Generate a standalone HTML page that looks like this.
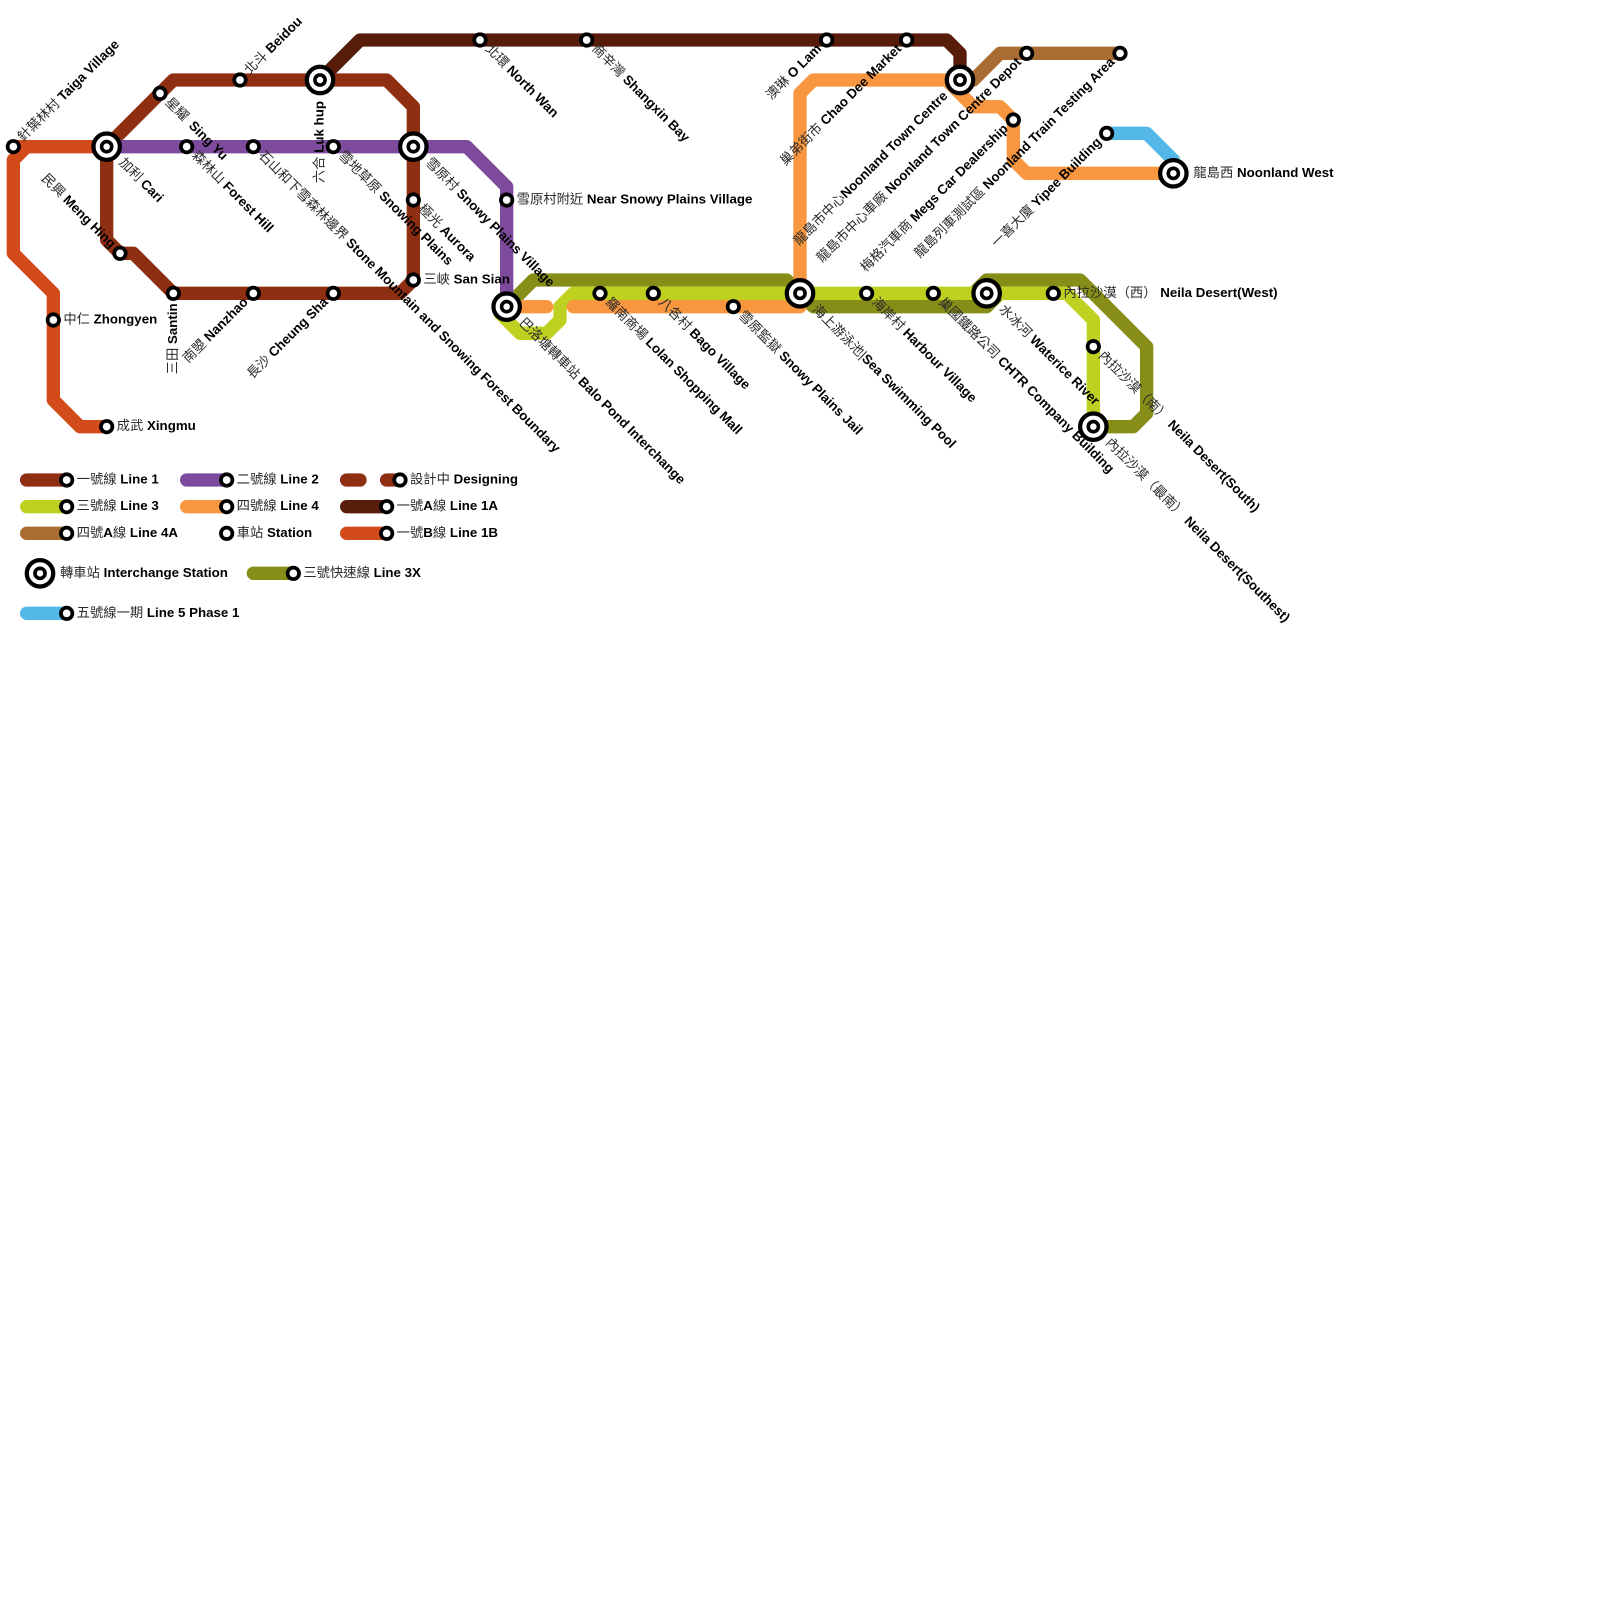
<!DOCTYPE html>
<html><head><meta charset="utf-8"><style>
html,body{margin:0;padding:0;background:#fff}
svg{display:block}
text{font-family:"Liberation Sans","Noto Sans CJK TC",sans-serif;font-size:13.33px;fill:#2a2a2a}
text tspan{font-weight:bold;fill:#000}
.l{fill:none;stroke-width:1;stroke-linejoin:round;stroke-linecap:round}
</style></head><body>
<svg width="1600" height="1600" viewBox="0 0 1600 1600" xmlns="http://www.w3.org/2000/svg">
<defs>
<g id="s"><circle r=".43" fill="#fff" stroke="#000" stroke-width=".28"/></g>
<g id="i"><circle r=".99" fill="#fff" stroke="#000" stroke-width=".32"/><circle r=".38" fill="#fff" stroke="#000" stroke-width=".27"/></g>
</defs>
<g transform="scale(13.3333)">
<!-- lines -->
<polyline class="l" stroke="#8f2f12" points="8,11 8,18 9,19 10,19 13,22 30,22 31,21 31,8 29,6 13,6 8,11"/>
<polyline class="l" stroke="#d34a1b" points="8,11 1,11"/>
<polyline class="l" stroke="#d34a1b" points="2,11 1,12 1,19 4,22 4,30 6,32 8,32"/>
<polyline class="l" stroke="#581c0a" points="24,6 27,3 71,3 72,4 72,6"/>
<polyline class="l" stroke="#a96c33" points="72,6 73,6 75,4 84,4"/>
<polyline class="l" stroke="#878e17" points="38,23 40,21 59,21 60,22 61,23 74,23 75,22"/>
<polyline class="l" stroke="#878e17" points="73,22 74,21 81,21 86,26 86,31 85,32 82,32"/>
<polyline class="l" stroke="#bfd120" points="37.5,23.5 39,25 41,25 42,24 42,23 43,22 80,22 82,24 82,32"/>
<polyline class="l" stroke="#f8973f" points="38,23 41,23"/>
<polyline class="l" stroke="#f8973f" points="43,23 60,23 60,7 61,6 71,6 73,8 75,8 76,9 76,12 77,13 88,13"/>
<polyline class="l" stroke="#53b7e8" points="83,10 86,10 88,12 88,13"/>
<polyline class="l" stroke="#7d4a9c" points="8,11 35,11 38,14 38,23"/>
<!-- legend lines -->
<line class="l" stroke="#8f2f12" x1="2" y1="36" x2="5" y2="36"/>
<line class="l" stroke="#bfd120" x1="2" y1="38" x2="5" y2="38"/>
<line class="l" stroke="#a96c33" x1="2" y1="40" x2="5" y2="40"/>
<line class="l" stroke="#7d4a9c" x1="14" y1="36" x2="17" y2="36"/>
<line class="l" stroke="#f8973f" x1="14" y1="38" x2="17" y2="38"/>
<line class="l" stroke="#8f2f12" x1="26" y1="36" x2="27" y2="36"/>
<line class="l" stroke="#8f2f12" x1="29" y1="36" x2="30" y2="36"/>
<line class="l" stroke="#581c0a" x1="26" y1="38" x2="29" y2="38"/>
<line class="l" stroke="#d34a1b" x1="26" y1="40" x2="29" y2="40"/>
<line class="l" stroke="#878e17" x1="19" y1="43" x2="22" y2="43"/>
<line class="l" stroke="#53b7e8" x1="2" y1="46" x2="5" y2="46"/>
<!-- stations -->
<use href="#s" x="1" y="11"/><use href="#s" x="12" y="7"/><use href="#s" x="18" y="6"/>
<use href="#s" x="14" y="11"/><use href="#s" x="19" y="11"/><use href="#s" x="25" y="11"/>
<use href="#s" x="31" y="15"/><use href="#s" x="31" y="21"/><use href="#s" x="38" y="15"/>
<use href="#s" x="9" y="19"/><use href="#s" x="13" y="22"/><use href="#s" x="19" y="22"/>
<use href="#s" x="25" y="22"/><use href="#s" x="4" y="24"/><use href="#s" x="8" y="32"/>
<use href="#s" x="36" y="3"/><use href="#s" x="44" y="3"/><use href="#s" x="62" y="3"/>
<use href="#s" x="68" y="3"/><use href="#s" x="77" y="4"/><use href="#s" x="84" y="4"/>
<use href="#s" x="76" y="9"/><use href="#s" x="83" y="10"/><use href="#s" x="45" y="22"/>
<use href="#s" x="49" y="22"/><use href="#s" x="55" y="23"/><use href="#s" x="65" y="22"/>
<use href="#s" x="70" y="22"/><use href="#s" x="79" y="22"/><use href="#s" x="82" y="26"/>
<use href="#s" x="5" y="36"/><use href="#s" x="5" y="38"/><use href="#s" x="5" y="40"/>
<use href="#s" x="17" y="36"/><use href="#s" x="17" y="38"/><use href="#s" x="17" y="40"/>
<use href="#s" x="30" y="36"/><use href="#s" x="29" y="38"/><use href="#s" x="29" y="40"/>
<use href="#s" x="22" y="43"/><use href="#s" x="5" y="46"/>
<use href="#i" x="8" y="11"/><use href="#i" x="24" y="6"/><use href="#i" x="31" y="11"/>
<use href="#i" x="38" y="23"/><use href="#i" x="60" y="22"/><use href="#i" x="74" y="22"/>
<use href="#i" x="72" y="6"/><use href="#i" x="88" y="13"/><use href="#i" x="82" y="32"/>
<use href="#i" x="3" y="43"/>
<!-- labels -->
<g>
<text transform="translate(1,11) rotate(-45) scale(.075)" x="10" y="3.5">針葉林村 <tspan>Taiga Village</tspan></text>
<text transform="translate(12,7) rotate(45) scale(.075)" x="10" y="3.5">星耀 <tspan dx="3">Sing Yu</tspan></text>
<text transform="translate(18,6) rotate(-45) scale(.075)" x="10" y="3.5">北斗 <tspan>Beidou</tspan></text>
<text transform="translate(24,6) rotate(-90) scale(.075)" x="-21" y="3.5" text-anchor="end">六合 <tspan>Luk hup</tspan></text>
<text transform="translate(13,22) rotate(-90) scale(.075)" x="-10" y="3.5" text-anchor="end">三田 <tspan>Santin</tspan></text>
<text transform="translate(19,22) rotate(-45) scale(.075)" x="-10" y="3.5" text-anchor="end">南曌 <tspan>Nanzhao</tspan></text>
<text transform="translate(25,22) rotate(-45) scale(.075)" x="-10" y="3.5" text-anchor="end">長沙 <tspan>Cheung Sha</tspan></text>
<text transform="translate(9,19) rotate(45) scale(.075)" x="-10" y="3.5" text-anchor="end">民興 <tspan>Meng Hing</tspan></text>
<text transform="translate(8,11) rotate(45) scale(.075)" x="20" y="3.5">加利 <tspan>Cari</tspan></text>
<text transform="translate(14,11) rotate(45) scale(.075)" x="10" y="3.5">森林山 <tspan>Forest Hill</tspan></text>
<text transform="translate(19,11) rotate(45) scale(.075)" x="10" y="3.5">石山和下雪森林邊界 <tspan>Stone Mountain and Snowing Forest Boundary</tspan></text>
<text transform="translate(25,11) rotate(45) scale(.075)" x="10" y="3.5">雪地草原 <tspan>Snowing Plains</tspan></text>
<text transform="translate(31,11) rotate(45) scale(.075)" x="20" y="3.5">雪原村 <tspan>Snowy Plains Village</tspan></text>
<text transform="translate(31,15) rotate(45) scale(.075)" x="10" y="3.5">極光 <tspan>Aurora</tspan></text>
<text transform="translate(31,21) scale(.075)" x="10" y="3.5">三峽 <tspan>San Sian</tspan></text>
<text transform="translate(38,15) scale(.075)" x="10" y="3.5">雪原村附近 <tspan>Near Snowy Plains Village</tspan></text>
<text transform="translate(4,24) scale(.075)" x="10" y="3.5">中仁 <tspan>Zhongyen</tspan></text>
<text transform="translate(8,32) scale(.075)" x="10" y="3.5">成武 <tspan>Xingmu</tspan></text>
<text transform="translate(36,3) rotate(45) scale(.075)" x="10" y="3.5">北環 <tspan>North Wan</tspan></text>
<text transform="translate(44,3) rotate(45) scale(.075)" x="10" y="3.5">商辛灣 <tspan>Shangxin Bay</tspan></text>
<text transform="translate(62,3) rotate(-45) scale(.075)" x="-10" y="3.5" text-anchor="end">澳琳 <tspan>O Lam</tspan></text>
<text transform="translate(68,3) rotate(-45) scale(.075)" x="-10" y="3.5" text-anchor="end">巢弟街市 <tspan>Chao Dee Market</tspan></text>
<text transform="translate(72,6) rotate(-45) scale(.075)" x="-20" y="3.5" text-anchor="end">龍島市中心<tspan>Noonland Town Centre</tspan></text>
<text transform="translate(77,4) rotate(-45) scale(.075)" x="-10" y="3.5" text-anchor="end">龍島市中心車廠 <tspan>Noonland Town Centre Depot</tspan></text>
<text transform="translate(76,9) rotate(-45) scale(.075)" x="-10" y="3.5" text-anchor="end">梅格汽車商 <tspan>Megs Car Dealership</tspan></text>
<text transform="translate(84,4) rotate(-45) scale(.075)" x="-10" y="3.5" text-anchor="end">龍島列車測試區 <tspan>Noonland Train Testing Area</tspan></text>
<text transform="translate(83,10) rotate(-45) scale(.075)" x="-10" y="3.5" text-anchor="end">一喜大廈 <tspan>Yipee Building</tspan></text>
<text transform="translate(88,13) scale(.075)" x="20" y="3.5">龍島西 <tspan>Noonland West</tspan></text>
<text transform="translate(38,23) rotate(45) scale(.075)" x="20" y="3.5">巴洛塘轉車站 <tspan>Balo Pond Interchange</tspan></text>
<text transform="translate(45,22) rotate(45) scale(.075)" x="10" y="3.5">羅南商場 <tspan>Lolan Shopping Mall</tspan></text>
<text transform="translate(49,22) rotate(45) scale(.075)" x="10" y="3.5">八各村 <tspan>Bago Village</tspan></text>
<text transform="translate(55,23) rotate(45) scale(.075)" x="10" y="3.5">雪原監獄 <tspan>Snowy Plains Jail</tspan></text>
<text transform="translate(60,22) rotate(45) scale(.075)" x="20" y="3.5">海上游泳池|<tspan>Sea Swimming Pool</tspan></text>
<text transform="translate(65,22) rotate(45) scale(.075)" x="10" y="3.5">海岸村 <tspan>Harbour Village</tspan></text>
<text transform="translate(70,22) rotate(45) scale(.075)" x="10" y="3.5">巢國鐵路公司 <tspan>CHTR Company Building</tspan></text>
<text transform="translate(74,22) rotate(45) scale(.075)" x="20" y="3.5">水冰河 <tspan>Waterice River</tspan></text>
<text transform="translate(79,22) scale(.075)" x="10" y="3.5">內拉沙漠（西） <tspan>Neila Desert(West)</tspan></text>
<text transform="translate(82,26) rotate(45) scale(.075)" x="10" y="3.5">內拉沙漠（南） <tspan dx="1">Neila Desert(South)</tspan></text>
<text transform="translate(82,32) rotate(45) scale(.075)" x="20" y="3.5">內拉沙漠（最南） <tspan dx="1">Neila Desert(Southest)</tspan></text>
<!-- legend labels -->
<text transform="translate(5,36) scale(.075)" x="10" y="3.5">一號線 <tspan>Line 1</tspan></text>
<text transform="translate(5,38) scale(.075)" x="10" y="3.5">三號線 <tspan>Line 3</tspan></text>
<text transform="translate(5,40) scale(.075)" x="10" y="3.5">四號<tspan>A</tspan>線 <tspan>Line 4A</tspan></text>
<text transform="translate(17,36) scale(.075)" x="10" y="3.5">二號線 <tspan>Line 2</tspan></text>
<text transform="translate(17,38) scale(.075)" x="10" y="3.5">四號線 <tspan>Line 4</tspan></text>
<text transform="translate(17,40) scale(.075)" x="10" y="3.5">車站 <tspan>Station</tspan></text>
<text transform="translate(30,36) scale(.075)" x="10" y="3.5">設計中 <tspan>Designing</tspan></text>
<text transform="translate(29,38) scale(.075)" x="10" y="3.5">一號<tspan>A</tspan>線 <tspan>Line 1A</tspan></text>
<text transform="translate(29,40) scale(.075)" x="10" y="3.5">一號<tspan>B</tspan>線 <tspan>Line 1B</tspan></text>
<text transform="translate(3,43) scale(.075)" x="20" y="3.5">轉車站 <tspan>Interchange Station</tspan></text>
<text transform="translate(22,43) scale(.075)" x="10" y="3.5">三號快速線 <tspan>Line 3X</tspan></text>
<text transform="translate(5,46) scale(.075)" x="10" y="3.5">五號線一期 <tspan>Line 5 Phase 1</tspan></text>
</g>
</g>
</svg>
</body></html>
